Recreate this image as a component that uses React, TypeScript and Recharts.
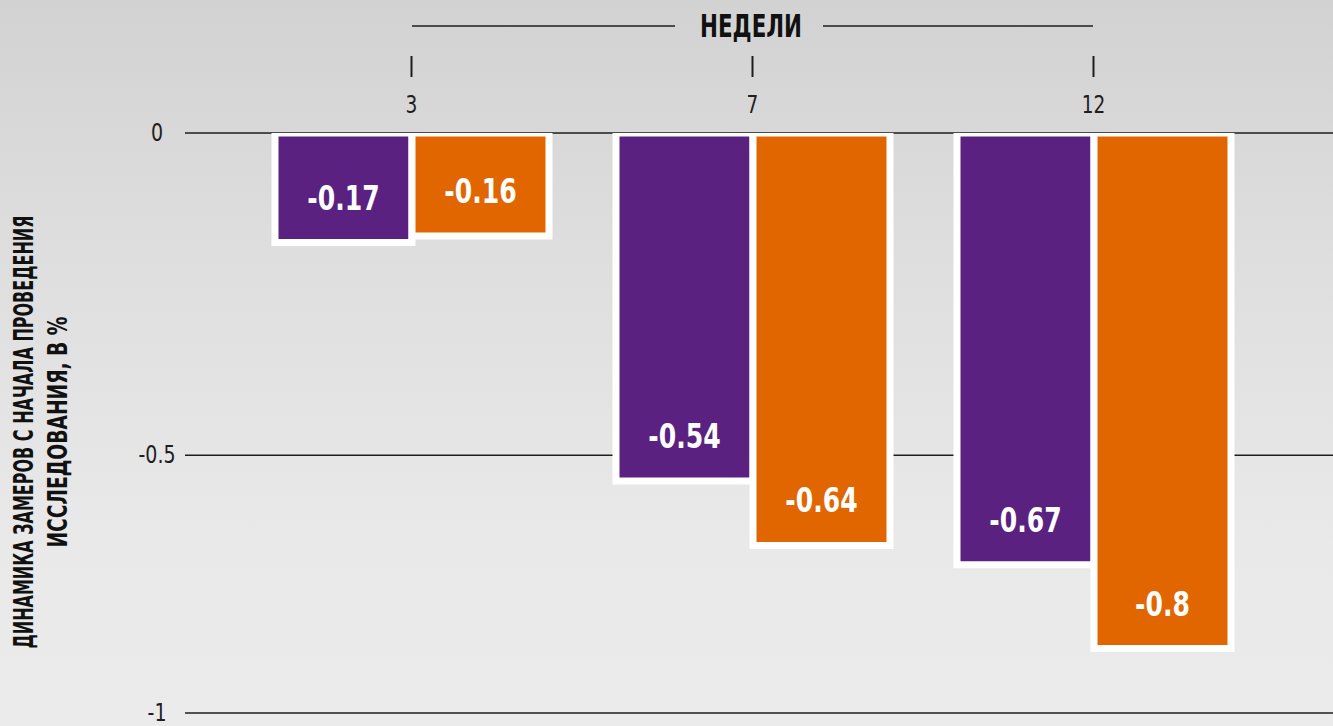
import React from "react";
import { BarChart, Bar, XAxis, YAxis, CartesianGrid, LabelList } from "recharts";

const weeks = ["3", "7", "12"];
const seriesA = [-0.17, -0.54, -0.67];
const seriesB = [-0.16, -0.64, -0.8];
const yTicks = [0, -0.5, -0.9];
const yTickLabels = ["0", "-0.5", "-1"];
const xTitle = "НЕДЕЛИ";
const yTitleLines = ["ДИНАМИКА ЗАМЕРОВ С НАЧАЛА ПРОВЕДЕНИЯ", "ИССЛЕДОВАНИЯ, В %"];

const data = weeks.map((w, i) => ({ week: w, a: seriesA[i], b: seriesB[i] }));

const FONT = '"DejaVu Sans Condensed", "DejaVu Sans", sans-serif';
const PURPLE = "#5a2181";
const ORANGE = "#e26600";
const INK = "#1e1e1e";

const NarrowText = (props: any) => {
  const { x, y, sx, children, ...rest } = props;
  return (
    <g transform={`translate(${x} ${y}) scale(${sx} 1)`}>
      <text x={0} y={0} textAnchor="middle" fontFamily={FONT} {...rest}>
        {children}
      </text>
    </g>
  );
};

const XTick = (props: any) => {
  const { x, y, payload } = props;
  return (
    <g>
      <line x1={x} x2={x} y1={y - 77} y2={y - 56} stroke={INK} strokeWidth={2} />
      <NarrowText x={x} y={y - 20} sx={0.86} fontSize={24} fill={INK}>
        {payload.value}
      </NarrowText>
    </g>
  );
};

const YTick = (props: any) => {
  const { x, y, payload, index } = props;
  const idx = yTicks.indexOf(payload.value);
  return (
    <NarrowText x={x} y={y + 8} sx={0.88} fontSize={24} fill={INK}>
      {yTickLabels[idx >= 0 ? idx : index]}
    </NarrowText>
  );
};

const XTitle = () => {
  return (
    <g>
      <line x1={412} x2={675} y1={26} y2={26} stroke={INK} strokeWidth={1.5} />
      <line x1={823} x2={1093} y1={26} y2={26} stroke={INK} strokeWidth={1.5} />
      <text x={751} y={37} textAnchor="middle" fontFamily={FONT} fontWeight="bold" fontSize={32} fill="#111" textLength={102} lengthAdjust="spacingAndGlyphs">
        {xTitle}
      </text>
    </g>
  );
};

const YTitle = () => {
  return (
    <g>
      <text x={33} y={432} transform="rotate(-90 33 432)" textAnchor="middle" fontFamily={FONT} fontWeight="bold" fontSize={26} fill="#111" textLength={433} lengthAdjust="spacingAndGlyphs">
        {yTitleLines[0]}
      </text>
      <text x={67} y={432} transform="rotate(-90 67 432)" textAnchor="middle" fontFamily={FONT} fontWeight="bold" fontSize={26} fill="#111" textLength={231} lengthAdjust="spacingAndGlyphs">
        {yTitleLines[1]}
      </text>
    </g>
  );
};

const BarValue = (props: any) => {
  const vb = props.viewBox && props.viewBox.width != null ? props.viewBox : props;
  const x = Number(vb.x);
  const y = Number(vb.y);
  const w = Number(vb.width);
  const h = Number(vb.height);
  const bottom = Math.max(y, y + h);
  return (
    <NarrowText x={x + w / 2} y={bottom - 33} sx={0.82} fontWeight="bold" fontSize={34} fill="#ffffff">
      {props.value}
    </NarrowText>
  );
};

export default function App() {
  return (
    <div
      style={{
        position: "absolute",
        left: 0,
        top: 0,
        width: 1333,
        height: 726,
        background: "linear-gradient(180deg, #d2d2d2 0%, #dedede 35%, #e9e9e9 75%, #ebebeb 100%)",
        overflow: "hidden",
      }}
    >
      <BarChart
        width={1333}
        height={726}
        data={data}
        margin={{ top: 0, right: 0, bottom: 13, left: 0 }}
        barSize={137}
        barGap={0}
      >
        <CartesianGrid horizontal={true} vertical={false} stroke={INK} strokeWidth={1.5} strokeOpacity={1} />
        <XAxis
          dataKey="week"
          orientation="top"
          height={133}
          axisLine={false}
          tickLine={false}
          tickSize={0}
          tickMargin={0}
          padding={{ left: 56, right: 69 }}
          tick={<XTick />}
          label={<XTitle />}
        />
        <YAxis
          type="number"
          domain={[-0.9, 0]}
          ticks={yTicks}
          width={185}
          axisLine={false}
          tickLine={false}
          tickSize={0}
          tickMargin={28}
          tick={<YTick />}
          interval={0}
          label={<YTitle />}
          allowDataOverflow={true}
        />
        <Bar dataKey="a" fill={PURPLE} stroke="#ffffff" strokeWidth={7} isAnimationActive={false}>
          <LabelList dataKey="a" content={<BarValue />} />
        </Bar>
        <Bar dataKey="b" fill={ORANGE} stroke="#ffffff" strokeWidth={7} isAnimationActive={false}>
          <LabelList dataKey="b" content={<BarValue />} />
        </Bar>
      </BarChart>
    </div>
  );
}
